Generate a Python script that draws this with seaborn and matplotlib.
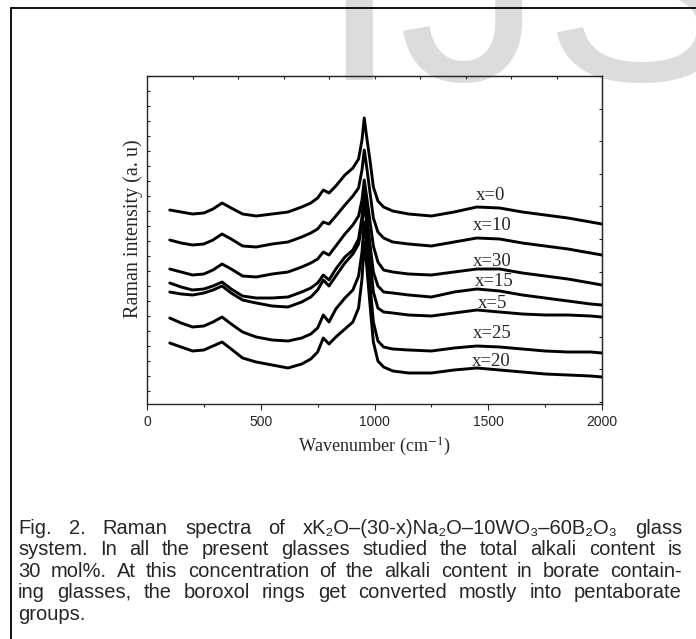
import numpy as np
import pandas as pd
import seaborn as sns
import matplotlib.pyplot as plt
from matplotlib.lines import Line2D

# 라만 스펙트럼 데이터 (그림에서 읽은 값, 세로 오프셋 포함, a.u.)
wavenumber = [100, 150, 200, 250, 290, 330, 370, 420, 480, 550, 620, 680, 720, 750, 775, 800,
              830, 870, 905, 930, 945, 955, 965, 980, 995, 1015, 1040, 1080, 1150, 1250,
              1350, 1450, 1550, 1650, 1750, 1850, 1950, 2000]

x0 = [194, 192, 190, 191, 195, 201, 196, 190, 188, 190, 192, 197, 201, 206, 214, 211,
      218, 229, 236, 245, 264, 286, 268, 244, 217, 203, 197, 193, 190, 188,
      192, 197, 196, 192, 189, 186, 182, 180]
x10 = [164, 161, 159, 160, 164, 170, 165, 158, 157, 160, 162, 167, 171, 175, 182, 180,
       188, 199, 208, 216, 234, 254, 238, 212, 186, 172, 166, 162, 160, 158,
       162, 166, 165, 161, 158, 155, 151, 149]
x30 = [135, 132, 129, 130, 134, 140, 135, 128, 127, 130, 132, 137, 141, 145, 152, 149,
       158, 170, 179, 188, 204, 224, 208, 183, 158, 142, 134, 132, 130, 129,
       132, 135, 135, 131, 128, 125, 121, 119]
x15 = [121, 117, 114, 115, 118, 122, 115, 108, 106, 106, 107, 112, 116, 121, 129, 124,
       135, 147, 154, 165, 187, 214, 192, 160, 132, 118, 112, 111, 109, 107,
       112, 115, 113, 109, 106, 103, 100, 99]
x5 = [112, 110, 109, 111, 114, 118, 111, 104, 101, 98, 97, 102, 107, 114, 124, 118,
      128, 141, 150, 160, 180, 202, 182, 146, 112, 96, 92, 91, 89, 88,
      91, 94, 92, 90, 89, 89, 88, 87]
x25 = [86, 81, 77, 78, 82, 87, 80, 72, 67, 64, 63, 66, 70, 76, 89, 82,
       95, 106, 114, 128, 152, 182, 160, 120, 82, 63, 57, 55, 54, 53,
       56, 58, 57, 55, 53, 52, 52, 51]
x20 = [61, 57, 53, 54, 58, 62, 55, 46, 42, 39, 36, 40, 45, 52, 66, 60,
       67, 75, 82, 96, 125, 162, 140, 100, 62, 43, 37, 33, 31, 31,
       34, 36, 34, 32, 30, 29, 28, 27]

samples = ['x=0', 'x=10', 'x=30', 'x=15', 'x=5', 'x=25', 'x=20']
spectra = [x0, x10, x30, x15, x5, x25, x20]

# 라벨 위치 (데이터 좌표)
label_pos = [(1508, 209), (1517, 178), (1516, 143), (1527, 122), (1520, 100), (1517, 71), (1512, 43)]

caption_lines = [
    'Fig. 2. Raman spectra of  xK\u2082O\u2013(30-x)Na\u2082O\u201310WO\u2083\u201360B\u2082O\u2083 glass',
    'system. In all the present glasses studied the total alkali content is',
    '30 mol%. At this concentration of the alkali content in borate contain-',
    'ing glasses, the boroxol rings get converted mostly into pentaborate',
    'groups.',
]

sns.set_style('ticks')
plt.rcParams['font.family'] = ['Liberation Sans', 'DejaVu Sans']
plt.rcParams['mathtext.fontset'] = 'stix'

W, H = 696, 639
fig = plt.figure(figsize=(W / 100, H / 100), dpi=100)

# 배경 워터마크
fig.text(318 / W, 1 - 80 / H, 'IJS', fontsize=209, color='#dcdcdc',
         family='Liberation Sans', ha='left', va='baseline', zorder=-5)

# 바깥 테두리
fig.add_artist(Line2D([11 / W, 11 / W], [1 - 8 / H, 0], color='black', lw=1.3, transform=fig.transFigure))
fig.add_artist(Line2D([11 / W, 1], [1 - 8 / H, 1 - 8 / H], color='black', lw=1.3, transform=fig.transFigure))

ax = fig.add_axes([147 / W, 1 - 404 / H, 455 / W, 328 / H])
ax.patch.set_alpha(0)

for name, vals in zip(samples, spectra):
    sns.lineplot(x=wavenumber, y=vals, ax=ax, color='black', lw=2.1)

for name, (lx, ly) in zip(samples, label_pos):
    ax.text(lx, ly, name, family='Liberation Serif', fontsize=13.5, ha='center', va='center')

ax.set_xlim(0, 2000)
ax.set_ylim(0, 328)
for s in ax.spines.values():
    s.set_linewidth(1.0)

ax.set_xticks([0, 500, 1000, 1500, 2000])
ax.set_xticks([250, 750, 1250, 1750], minor=True)
ax.tick_params(axis='x', which='major', direction='out', length=4, width=0.8, labelsize=10, pad=4)
ax.tick_params(axis='x', which='minor', direction='out', length=2.5, width=0.8)
ax.set_yticks(np.arange(328, 0, -15))
ax.set_yticklabels([])
ax.tick_params(axis='y', direction='in', length=2, width=0.8)

top = ax.secondary_xaxis('top')
top.set_xticks(np.arange(200, 2000, 200))
top.set_xticklabels([])
top.tick_params(direction='in', length=2.5, width=0.8)
right = ax.secondary_yaxis('right')
right.set_yticks(np.arange(328 - 32.6, 0, -32.6))
right.set_yticklabels([])
right.tick_params(direction='in', length=2, width=0.8)

fig.text(374.5 / W, 1 - 447 / H, 'Wavenumber (cm$^{-1}$)', family='Liberation Serif',
         fontsize=13, ha='center', va='center')
fig.text(133 / W, 1 - 229 / H, 'Raman intensity (a. u)', family='Liberation Serif',
         fontsize=14.5, rotation=90, ha='center', va='center')

# 캡션 (양쪽 정렬)
cap_size = 14.5
cap_left, cap_right = 18, 682
baselines = [534, 555, 577, 598, 620]
renderer = fig.canvas.get_renderer()
for i, line in enumerate(caption_lines):
    yb = 1 - baselines[i] / H
    if i == len(caption_lines) - 1:
        fig.text(cap_left / W, yb, line, fontsize=cap_size, va='baseline', ha='left')
        continue
    words = line.split()
    arts = [fig.text(0, yb, w_, fontsize=cap_size, va='baseline', ha='left') for w_ in words]
    widths = [a.get_window_extent(renderer).width for a in arts]
    gap = (cap_right - cap_left - sum(widths)) / (len(words) - 1)
    xpos = cap_left
    for a, w_ in zip(arts, widths):
        a.set_x(xpos / W)
        xpos += w_ + gap

fig.savefig('out.png', dpi=100)
